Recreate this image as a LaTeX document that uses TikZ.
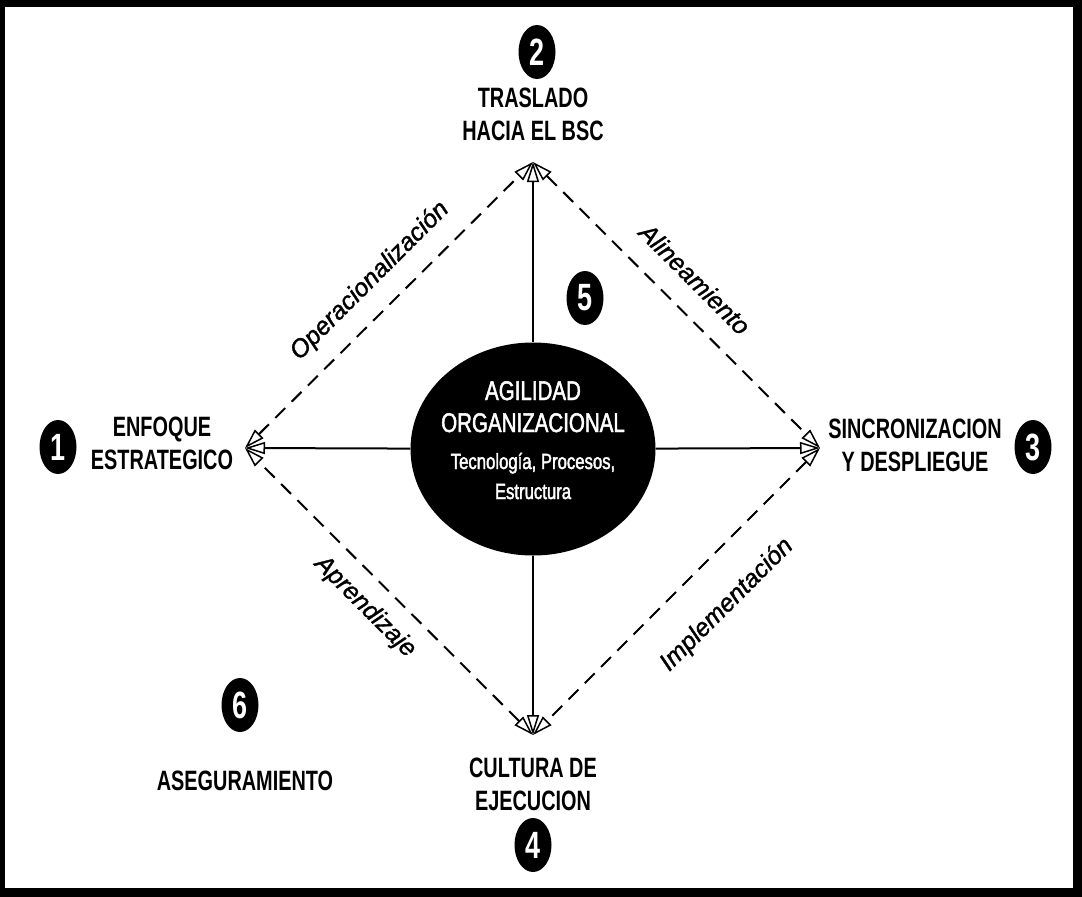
\documentclass[tikz,border=0pt]{standalone}
\usepackage{fontspec}
\setmainfont{Liberation Sans}
\newfontfamily\headfont[FakeStretch=0.71]{Liberation Sans}
\newfontfamily\corefont[FakeStretch=0.76,FakeBold=1.8]{Liberation Sans}
\newfontfamily\edgefont[FakeBold=1.4]{Liberation Sans}
\usetikzlibrary{arrows.meta,shapes.geometric}

\begin{document}
\begin{tikzpicture}[x=1pt,y=-1pt,
  badge/.style={ellipse, fill=black, minimum width=37pt, minimum height=54pt,
    inner sep=0pt, text=white, font=\headfont\bfseries\fontsize{38}{38}\selectfont},
  title/.style={align=center, inner sep=0pt,
    font=\headfont\bfseries\fontsize{28}{33}\selectfont},
  coretext/.style={anchor=base, inner sep=0pt, text=white},
  edgelabel/.style={inner sep=0pt,
    font=\edgefont\itshape\fontsize{25}{25}\selectfont},
  spoke/.style={line width=2pt,
    -{Triangle[fill=white,length=20pt,width=12pt,line width=1.5pt]}},
  rim/.style={line width=2pt, dash pattern=on 14pt off 9pt,
    {Triangle[fill=white,length=20pt,width=12pt,line width=1.5pt]}-{Triangle[fill=white,length=20pt,width=12pt,line width=1.5pt]}}
]
\useasboundingbox (0,0) rectangle (1082,897);

% frame
\fill[black] (0,0) rectangle (1082,897);
\fill[white] (5,7) rectangle (1073,888);

% diamond corners
\coordinate (vT) at (533,162);
\coordinate (vB) at (533,735);
\coordinate (vL) at (245,448);
\coordinate (vR) at (820,448);

% central disc
\node[ellipse, fill=black, minimum width=245pt, minimum height=213pt, inner sep=0pt] (c) at (533,449) {};
\node[coretext, font=\corefont\fontsize{27}{27}\selectfont] (c1) at (533,400) {AGILIDAD};
\node[coretext, font=\corefont\fontsize{27}{27}\selectfont] (c2) at (533,432) {ORGANIZACIONAL};
\node[coretext, font=\corefont\fontsize{22}{22}\selectfont] (c3) at (533,469) {Tecnología, Procesos,};
\node[coretext, font=\corefont\fontsize{22}{22}\selectfont] (c4) at (533,499) {Estructura};

% spokes
\draw[spoke] (c) -- (vT);
\draw[spoke] (c) -- (vB);
\draw[spoke] (c) -- (vL);
\draw[spoke] (c) -- (vR);

% dashed rim
\draw[rim] (vL) -- (vT);
\draw[rim] (vT) -- (vR);
\draw[rim] (vR) -- (vB);
\draw[rim] (vB) -- (vL);

% rim labels
\node[edgelabel, rotate=45] (e1) at (370,281) {Operacionalización};
\node[edgelabel, rotate=-45] (e2) at (695,279) {Alineamiento};
\node[edgelabel, rotate=-45] (e3) at (365,607) {Aprendizaje};
\node[edgelabel, rotate=45] (e4) at (727,605) {Implementación};

% stage titles
\node[title] (t1) at (162,443) {ENFOQUE\\ESTRATEGICO};
\node[title] (t2) at (533,114) {TRASLADO\\HACIA EL BSC};
\node[title] (t3) at (915,445) {SINCRONIZACION\\Y DESPLIEGUE};
\node[title] (t4) at (533,784) {CULTURA DE\\EJECUCION};
\node[title] (t6) at (245,781) {ASEGURAMIENTO};

% numbered badges
\node[badge] (b1) at (58,447) {1};
\node[badge] (b2) at (537,52) {2};
\node[badge] (b3) at (1033,447) {3};
\node[badge] (b4) at (533,845) {4};
\node[badge] (b5) at (585,298) {5};
\node[badge] (b6) at (240,705) {6};
\end{tikzpicture}
\end{document}
